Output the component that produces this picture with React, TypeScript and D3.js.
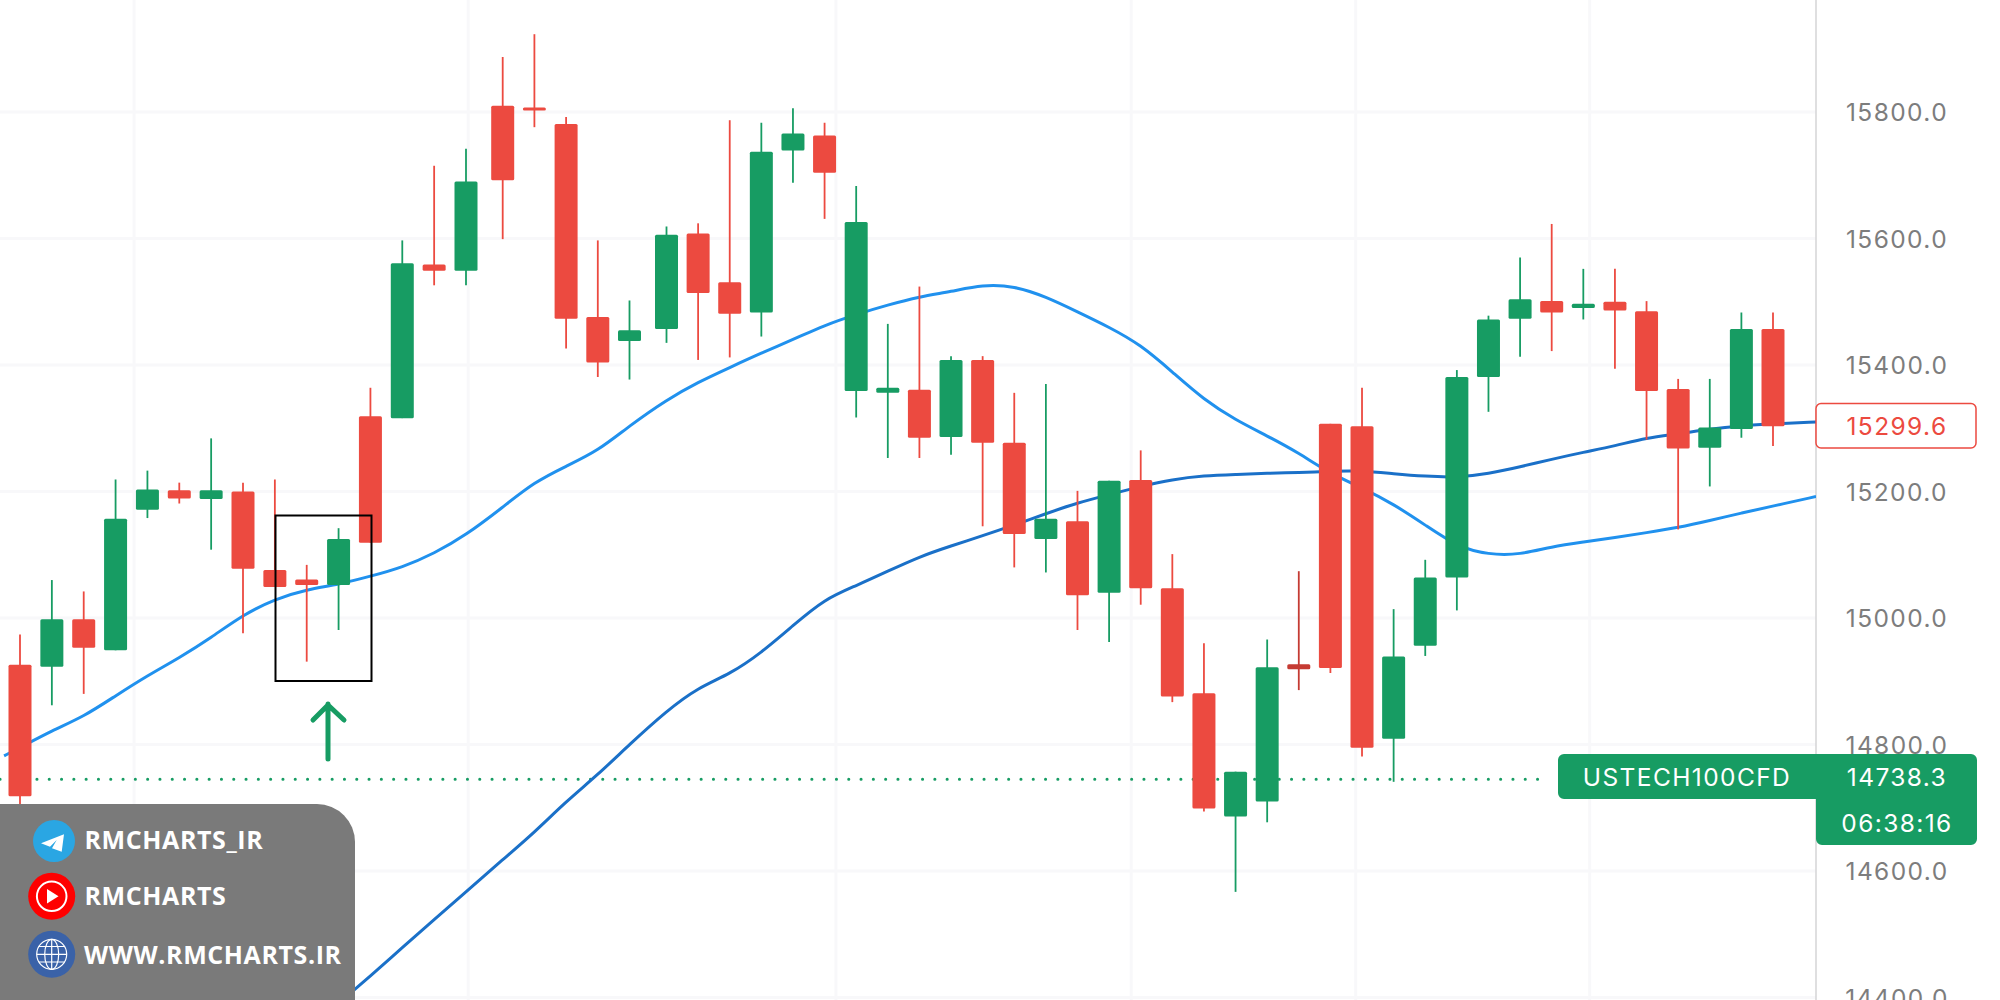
import React from 'react';
import * as d3 from 'd3';

// prices, one entry per bar
const barOpen = [14926, 14923, 14998, 14949, 15171, 15202, 15188, 15200, 15076, 15061, 15052, 15319, 15316, 15559, 15549, 15810, 15807, 15781, 15476, 15438, 15457, 15608, 15531, 15483, 15739, 15763, 15359, 15356, 15361, 15286, 15408, 15277, 15125, 15153, 15040, 15218, 15047, 14881, 14686, 14710, 14927, 15307, 15303, 14809, 14956, 15064, 15381, 15473, 15501, 15490, 15500, 15485, 15362, 15269, 15299, 15457];
const barClose = [14718, 14998, 14953, 15157, 15203, 15189, 15202, 15078, 15049, 15052, 15125, 15119, 15561, 15549, 15690, 15692, 15803, 15473, 15404, 15455, 15606, 15514, 15481, 15737, 15766, 15704, 15626, 15364, 15285, 15408, 15277, 15133, 15157, 15036, 15217, 15047, 14876, 14699, 14757, 14922, 14919, 14921, 14795, 14939, 15064, 15381, 15472, 15504, 15483, 15497, 15486, 15359, 15268, 15301, 15457, 15303];
const barHigh = [14974, 15060, 15042, 15219, 15233, 15214, 15284, 15214, 15219, 15084, 15142, 15364, 15597, 15715, 15742, 15887, 15923, 15792, 15597, 15502, 15619, 15624, 15787, 15783, 15806, 15783, 15683, 15465, 15524, 15414, 15414, 15356, 15370, 15201, 15217, 15265, 15101, 14960, 14757, 14966, 15074, 15307, 15364, 15014, 15092, 15392, 15478, 15570, 15623, 15552, 15552, 15501, 15378, 15378, 15483, 15483];
const barLow = [14703, 14862, 14880, 14949, 15158, 15181, 15108, 14976, 15049, 14931, 14981, 15119, 15316, 15526, 15526, 15599, 15776, 15426, 15381, 15377, 15435, 15408, 15412, 15445, 15688, 15631, 15317, 15253, 15253, 15258, 15145, 15080, 15072, 14981, 14962, 15021, 14867, 14694, 14567, 14677, 14886, 14913, 14781, 14741, 14940, 15012, 15326, 15413, 15422, 15472, 15394, 15282, 15140, 15208, 15285, 15272];

// moving averages, sampled at the bars, the ends run past the first / last bar
const fastBars = [-0.5, ...d3.range(0, 56), 56.36];
const fastMa = [14782, 14795, 14822, 14844, 14877, 14909, 14937, 14969, 15005, 15030, 15045, 15053, 15066, 15080, 15102, 15131, 15175, 15215, 15240, 15264, 15304, 15345, 15373, 15396, 15419, 15440, 15463, 15480, 15495, 15508, 15516, 15527, 15525, 15508, 15484, 15460, 15432, 15389, 15345, 15313, 15288, 15261, 15228, 15206, 15180, 15147, 15113, 15100, 15100, 15113, 15120, 15127, 15135, 15143, 15154, 15166, 15177, 15192];
const slowBars = [...d3.range(9, 56), 56.36];
const slowMa = [14346, 14391, 14434, 14479, 14523, 14567, 14618, 14661, 14710, 14752, 14800, 14853, 14890, 14911, 14945, 14988, 15030, 15051, 15074, 15097, 15114, 15130, 15147, 15165, 15182, 15195, 15208, 15219, 15225, 15227, 15229, 15230, 15232, 15233, 15228, 15224, 15222, 15228, 15239, 15251, 15262, 15272, 15285, 15291, 15299, 15304, 15307, 15310];

const priceTicks = [15800, 15600, 15400, 15200, 15000, 14800, 14600, 14400];
const timeGridBars = [3.58, 14.06, 25.36, 34.7, 41.8, 49.2];

const lastClose = 15299.6;
const priceLineLevel = 14745;
const symbolName = 'USTECH100CFD';
const symbolPrice = '14738.3';
const countdown = '06:38:16';
const socials = ['RMCHARTS_IR', 'RMCHARTS', 'WWW.RMCHARTS.IR'];

const UP = '#179c63';
const DOWN = '#ec4a40';
const AXIS_FONT = 'Inter, Roboto, sans-serif';
const BADGE_FONT = '"Open Sans", "Noto Sans", sans-serif';

const W = 2000;
const H = 1000;
const axisX = 1816;
const labelX = 1897;

// bars are evenly spaced apart from two wider gaps, hence the piecewise domain
const x = d3.scaleLinear()
  .domain([0, 14, 15, 19, 20, 55])
  .range([20, 466, 502.7, 629.5, 666.5, 1773]);
const y = d3.scaleLinear().domain([15800, 14600]).range([112, 871]);

const maLine = d3.line<number>().curve(d3.curveBasis);

function Candle({ i }: { i: number }) {
  const o = barOpen[i];
  const c = barClose[i];
  let color = c >= o ? UP : DOWN;
  if (i === 40) color = '#c53b33'; // this doji is darker in the original
  const top = y(Math.max(o, c));
  const bottom = y(Math.min(o, c));
  return (
    <g>
      <line x1={x(i)} x2={x(i)} y1={y(barHigh[i])} y2={y(barLow[i])} stroke={color} strokeWidth={1.8} />
      <rect x={x(i) - 11.5} y={top} width={23} height={Math.max(bottom - top, 3)} rx={1.5} fill={color} />
    </g>
  );
}

function SocialBadges() {
  return (
    <g>
      <path d={`M0,804 H317 A38,38 0 0 1 355,842 V${H} H0 Z`} fill="#7a7a7a" />

      <circle cx={54} cy={841} r={21} fill="#2aa6e3" />
      <path d="M64,834.3 L41,843.3 L50,846.7 L56.7,840 L52,848.3 L61.7,851.7 Z" fill="#fff" />

      <circle cx={51.7} cy={896.3} r={23.5} fill="#fe0000" />
      <circle cx={51.7} cy={896.3} r={14.8} fill="none" stroke="#fff" strokeWidth={2} />
      <path d="M47,889 L47,903.5 L58.5,896.3 Z" fill="#fff" />

      <circle cx={51.7} cy={954.3} r={23.5} fill="#3a62a8" />
      <g fill="none" stroke="#fff" strokeWidth={1.2}>
        <circle cx={51.7} cy={954.3} r={15} />
        <ellipse cx={51.7} cy={954.3} rx={7} ry={15} />
        <path d="M51.7,939.3 V969.3 M36.7,954.3 H66.7 M39,946.5 H64.4 M39,962 H64.4" />
      </g>

      <g fill="#fff" fontFamily={BADGE_FONT} fontWeight={700} fontSize={25} letterSpacing={0.6}>
        <text x={84.5} y={849}>{socials[0]}</text>
        <text x={84.5} y={905}>{socials[1]}</text>
        <text x={84} y={964}>{socials[2]}</text>
      </g>
    </g>
  );
}

export default function App() {
  const fastPath = maLine(fastMa.map((v, i) => [x(fastBars[i]), y(v)]) as any);
  const slowPath = maLine(slowMa.map((v, i) => [x(slowBars[i]), y(v)]) as any);

  return (
    <svg width={W} height={H} viewBox={`0 0 ${W} ${H}`} style={{ position: 'absolute', left: 0, top: 0, display: 'block', background: '#fff' }}>
      <defs>
        <clipPath id="plot"><rect x={0} y={0} width={axisX} height={H} /></clipPath>
      </defs>

      {/* grid */}
      <g stroke="#f8f8fa" strokeWidth={3}>
        {priceTicks.map(t => <line key={t} x1={0} x2={axisX} y1={y(t)} y2={y(t)} />)}
        {timeGridBars.map(b => <line key={b} x1={x(b)} x2={x(b)} y1={0} y2={H} />)}
      </g>
      <line x1={axisX} x2={axisX} y1={0} y2={H} stroke="#d4d4d6" strokeWidth={1.5} />

      {/* axis labels */}
      <g fill="#7d7d7d" fontFamily={AXIS_FONT} fontSize={24.5} letterSpacing={1.4} textAnchor="middle" dominantBaseline="central">
        {priceTicks.map(t => <text key={t} x={labelX} y={y(t)}>{d3.format('.1f')(t)}</text>)}
      </g>

      {/* last price line */}
      <line x1={0} x2={1548} y1={y(priceLineLevel)} y2={y(priceLineLevel)} stroke={UP} strokeWidth={3} strokeLinecap="round" strokeDasharray="0.1 12.2" />

      <g clipPath="url(#plot)" fill="none">
        <path d={fastPath as string} stroke="#2091ee" strokeWidth={3} />
        <path d={slowPath as string} stroke="#1a70c8" strokeWidth={3} />
      </g>

      {barOpen.map((_, i) => <Candle key={i} i={i} />)}

      {/* pattern marker and arrow */}
      <rect x={275.5} y={515.5} width={96} height={165.5} fill="none" stroke="#000" strokeWidth={2} />
      <path d="M328,759 V704 M313,720 L328,705 L344,720" fill="none" stroke={UP} strokeWidth={5} strokeLinecap="round" strokeLinejoin="round" />

      {/* price badges */}
      <rect x={axisX} y={403.5} width={160} height={44.5} rx={5} fill="#fff" stroke={DOWN} strokeWidth={1.5} />
      <text x={labelX} y={426} fill={DOWN} fontFamily={AXIS_FONT} fontSize={24.5} letterSpacing={1.4} textAnchor="middle" dominantBaseline="central">{d3.format('.1f')(lastClose)}</text>

      <path d="M1564,754 H1971 A6,6 0 0 1 1977,760 V839 A6,6 0 0 1 1971,845 H1822 A6,6 0 0 1 1816,839 V799 H1564 A6,6 0 0 1 1558,793 V760 A6,6 0 0 1 1564,754 Z" fill={UP} />
      <g fill="#fff" fontFamily={AXIS_FONT} fontSize={24.5} letterSpacing={1.4} textAnchor="middle" dominantBaseline="central">
        <text x={1687} y={776.5}>{symbolName}</text>
        <text x={labelX} y={776.5}>{symbolPrice}</text>
        <text x={labelX} y={822.5}>{countdown}</text>
      </g>

      <SocialBadges />
    </svg>
  );
}
